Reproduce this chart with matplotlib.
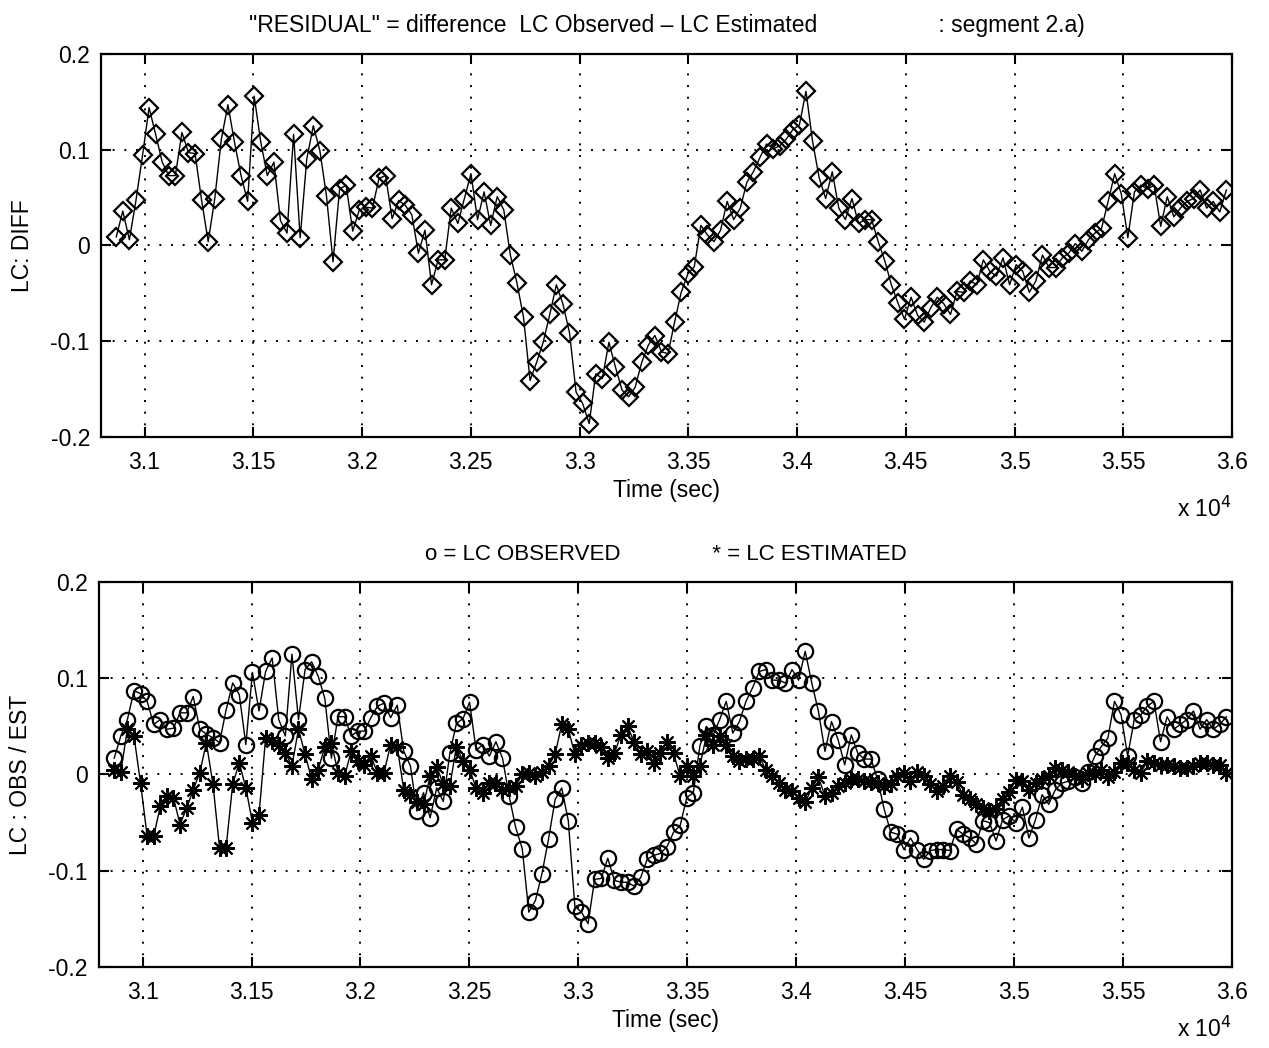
import numpy as np
import matplotlib
matplotlib.use('Agg')
import matplotlib.pyplot as plt

# LC residual, segment 2.a) -- regular samples starting at t0
t0 = 30870.0
dt = 30.2

lc_diff = [
    0.009, 0.036, 0.006, 0.047, 0.094, 0.144, 0.116, 0.087, 0.073, 0.073,
    0.118, 0.097, 0.096, 0.047, 0.004, 0.049, 0.111, 0.147, 0.108, 0.073,
    0.046, 0.156, 0.108, 0.073, 0.087, 0.026, 0.013, 0.116, 0.008, 0.090,
    0.125, 0.099, 0.052, -0.017, 0.059, 0.063, 0.015, 0.037, 0.040, 0.039,
    0.070, 0.073, 0.028, 0.047, 0.042, 0.032, -0.008, 0.016, -0.041, -0.015,
    -0.015, 0.039, 0.023, 0.049, 0.075, 0.027, 0.056, 0.021, 0.051, 0.037,
    -0.010, -0.039, -0.075, -0.141, -0.122, -0.101, -0.072, -0.041, -0.061, -0.091,
    -0.153, -0.165, -0.186, -0.134, -0.139, -0.101, -0.127, -0.151, -0.158, -0.148,
    -0.122, -0.104, -0.094, -0.111, -0.113, -0.080, -0.049, -0.030, -0.022, 0.021,
    0.011, 0.004, 0.016, 0.046, 0.027, 0.039, 0.066, 0.077, 0.092, 0.106,
    0.101, 0.104, 0.111, 0.121, 0.126, 0.161, 0.109, 0.071, 0.049, 0.077,
    0.039, 0.027, 0.049, 0.023, 0.027, 0.027, 0.004, -0.016, -0.041, -0.060,
    -0.077, -0.054, -0.073, -0.080, -0.065, -0.054, -0.061, -0.072, -0.048, -0.049,
    -0.037, -0.041, -0.015, -0.027, -0.032, -0.013, -0.041, -0.020, -0.027, -0.049,
    -0.037, -0.010, -0.023, -0.023, -0.013, -0.008, 0.002, -0.006, 0.006, 0.013,
    0.018, 0.046, 0.075, 0.054, 0.008, 0.056, 0.063, 0.059, 0.063, 0.020,
    0.051, 0.030, 0.039, 0.046, 0.049, 0.058, 0.039, 0.046, 0.035, 0.058,
]

lc_obs = [
    0.017, 0.040, 0.057, 0.087, 0.084, 0.076, 0.052, 0.057, 0.047, 0.048,
    0.064, 0.064, 0.081, 0.047, 0.042, 0.038, 0.033, 0.067, 0.095, 0.083,
    0.031, 0.106, 0.066, 0.107, 0.121, 0.057, 0.040, 0.125, 0.057, 0.109,
    0.117, 0.102, 0.079, 0.017, 0.060, 0.060, 0.040, 0.045, 0.045, 0.059,
    0.071, 0.074, 0.059, 0.072, 0.024, 0.009, -0.038, -0.019, -0.045, -0.014,
    -0.028, 0.022, 0.053, 0.058, 0.075, 0.025, 0.031, 0.019, 0.034, 0.017,
    -0.022, -0.055, -0.077, -0.143, -0.131, -0.103, -0.067, -0.026, -0.014, -0.048,
    -0.137, -0.143, -0.155, -0.109, -0.108, -0.087, -0.110, -0.112, -0.112, -0.116,
    -0.107, -0.088, -0.084, -0.082, -0.075, -0.060, -0.053, -0.024, -0.019, 0.030,
    0.050, 0.041, 0.057, 0.076, 0.043, 0.055, 0.076, 0.090, 0.107, 0.109,
    0.098, 0.098, 0.095, 0.109, 0.098, 0.128, 0.095, 0.066, 0.024, 0.055,
    0.036, 0.010, 0.041, 0.022, 0.016, 0.016, -0.005, -0.036, -0.060, -0.062,
    -0.078, -0.066, -0.078, -0.088, -0.079, -0.078, -0.078, -0.079, -0.057, -0.062,
    -0.066, -0.072, -0.048, -0.050, -0.069, -0.047, -0.043, -0.050, -0.034, -0.066,
    -0.047, -0.021, -0.031, -0.016, -0.009, -0.007, -0.003, -0.009, 0.003, 0.019,
    0.029, 0.038, 0.076, 0.062, 0.019, 0.057, 0.062, 0.071, 0.076, 0.034,
    0.060, 0.047, 0.052, 0.057, 0.066, 0.047, 0.057, 0.047, 0.052, 0.060,
]

lc_est = [
    0.005, 0.003, 0.047, 0.040, -0.009, -0.064, -0.064, -0.033, -0.022, -0.024,
    -0.052, -0.035, -0.016, 0.002, 0.033, -0.010, -0.076, -0.076, -0.010, 0.012,
    -0.014, -0.050, -0.042, 0.038, 0.035, 0.031, 0.022, 0.009, 0.047, 0.021,
    -0.005, 0.005, 0.029, 0.033, 0.002, -0.002, 0.024, 0.014, 0.010, 0.019,
    0.002, 0.002, 0.031, 0.029, -0.016, -0.021, -0.029, -0.031, -0.002, 0.008,
    -0.010, -0.012, 0.029, 0.014, 0.005, -0.014, -0.019, -0.009, -0.009, -0.016,
    -0.014, -0.012, 0.000, 0.002, -0.002, 0.003, 0.009, 0.021, 0.052, 0.047,
    0.021, 0.031, 0.033, 0.033, 0.029, 0.017, 0.022, 0.041, 0.050, 0.034,
    0.021, 0.024, 0.012, 0.022, 0.034, 0.022, -0.002, 0.009, -0.002, 0.009,
    0.041, 0.031, 0.040, 0.031, 0.019, 0.014, 0.016, 0.016, 0.019, 0.005,
    -0.002, -0.009, -0.016, -0.017, -0.024, -0.029, -0.014, -0.003, -0.022, -0.019,
    -0.012, -0.009, -0.005, -0.005, -0.007, -0.008, -0.009, -0.012, -0.010, -0.002,
    0.002, -0.007, 0.003, -0.002, -0.010, -0.017, -0.012, -0.002, -0.008, -0.021,
    -0.026, -0.031, -0.035, -0.038, -0.036, -0.025, -0.018, -0.006, -0.007, -0.016,
    -0.009, -0.005, -0.002, 0.007, 0.005, 0.003, -0.002, -0.005, 0.002, 0.000,
    0.005, -0.003, 0.003, 0.012, 0.012, 0.005, 0.002, 0.014, 0.012, 0.010,
    0.010, 0.009, 0.007, 0.007, 0.009, 0.012, 0.012, 0.010, 0.010, 0.002,
]

x_ticks = [31000, 31500, 32000, 32500, 33000, 33500, 34000, 34500, 35000, 35500, 36000]
y_ticks = [-0.2, -0.1, 0.0, 0.1, 0.2]

time = t0 + dt * np.arange(len(lc_diff))

plt.rcParams['font.family'] = ['Liberation Sans', 'DejaVu Sans']
plt.rcParams['font.size'] = 16.5

fig = plt.figure(figsize=(12.69, 10.48), dpi=100)
ax1 = fig.add_axes([0.0796, 0.583, 0.8913, 0.3655])
ax2 = fig.add_axes([0.0780, 0.0773, 0.8929, 0.3674])


def matlab_axes(ax, ylabel, exp_y):
    ax.set_xlim(30800, 36000)
    ax.set_ylim(-0.2, 0.2)
    ax.set_xticks(x_ticks)
    ax.set_xticklabels([f"{v / 1e4:g}" for v in x_ticks])
    ax.set_yticks(y_ticks)
    ax.set_yticklabels([f"{v:g}" for v in y_ticks])
    ax.tick_params(direction='in', length=7, width=1.5, top=True, right=True,
                   labelsize=16.5)
    ax.tick_params(axis='x', pad=10)
    ax.tick_params(axis='y', pad=8)
    ax.grid(True, color='black', linestyle=(0, (1, 5)), linewidth=1.4)
    for sp in ax.spines.values():
        sp.set_linewidth(1.6)
    ax.set_xlabel('Time (sec)', fontsize=16.5, labelpad=4)
    ax.set_ylabel(ylabel, fontsize=16.5, labelpad=12)
    # exponent note for the x axis, below the right end
    ax.text(1.0, exp_y, r'x 10$^4$', transform=ax.transAxes, ha='right',
            va='top', fontsize=16.5)


# top: residual
ax1.plot(time, lc_diff, color='black', linewidth=1.0, marker='D', markersize=9.5,
         markerfacecolor='none', markeredgecolor='black', markeredgewidth=1.6)
matlab_axes(ax1, 'LC: DIFF', -0.155)
ax1.set_title('"RESIDUAL" = difference  LC Observed \u2013 LC Estimated'
              '                   : segment 2.a)', fontsize=16.5, pad=16)

# bottom: observed vs estimated
ax2.plot(time, lc_obs, color='black', linewidth=1.0, marker='o', markersize=11,
         markerfacecolor='none', markeredgecolor='black', markeredgewidth=1.6)
ax2.plot(time, lc_est, color='black', linewidth=1.0, marker=(8, 2, 0),
         markersize=12, markeredgecolor='black', markeredgewidth=1.5)
matlab_axes(ax2, 'LC : OBS / EST', -0.13)
ax2.set_title('o = LC OBSERVED               * = LC ESTIMATED', fontsize=16, pad=16)

fig.savefig('out.png', dpi=100)
